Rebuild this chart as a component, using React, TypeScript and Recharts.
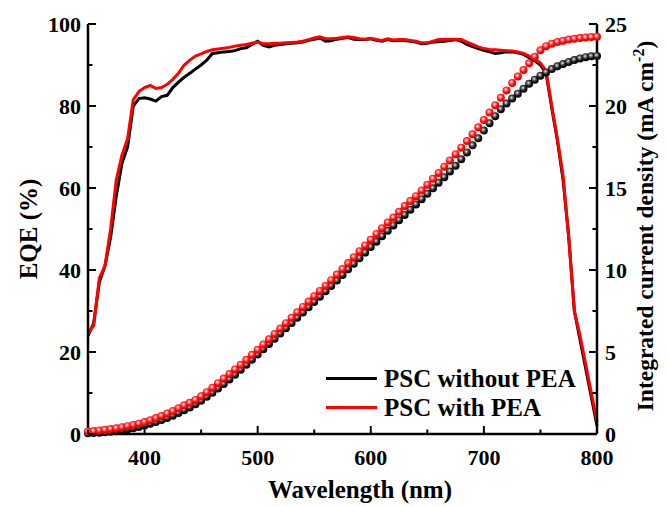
import { LineChart, Line, XAxis, YAxis, Legend } from 'recharts'

// wavelength grid (nm)
const wavelength = [
  350, 355, 360, 365, 370, 375, 380, 385, 390, 395,
  400, 405, 410, 415, 420, 425, 430, 435, 440, 445,
  450, 455, 460, 465, 470, 475, 480, 485, 490, 495,
  500, 505, 510, 515, 520, 525, 530, 535, 540, 545,
  550, 555, 560, 565, 570, 575, 580, 585, 590, 595,
  600, 605, 610, 615, 620, 625, 630, 635, 640, 645,
  650, 655, 660, 665, 670, 675, 680, 685, 690, 695,
  700, 705, 710, 715, 720, 725, 730, 735, 740, 745,
  750, 755, 760, 765, 770, 775, 780, 785, 790, 795,
  800,
]

// EQE (%)
const eqeWithout = [
  24, 27, 37, 41, 48, 58, 66, 70, 80, 81.8,
  82, 81.7, 81.2, 82.3, 82.6, 84.5, 85.8, 87, 88, 89,
  90, 91.2, 92.8, 93, 93.2, 93.3, 93.5, 94, 94.2, 95,
  95.8, 94.8, 94.4, 94.8, 95, 95.2, 95.3, 95.4, 95.6, 96,
  96.3, 96.6, 95.8, 95.9, 96.3, 96.5, 96.7, 96.3, 96.2, 96.2,
  96.4, 96, 95.8, 96.2, 95.9, 96, 96, 95.8, 95.6, 95.2,
  95.3, 95.6, 95.7, 95.8, 96, 96.2, 95.8, 95, 94.5, 94,
  93.6, 93.2, 92.8, 93, 93.2, 93.2, 93, 92.6, 91.8, 91,
  90, 88, 79.5, 71.5, 62, 48, 30, 23, 16, 9,
  2,
]
const eqeWith = [
  24.5, 26.5, 38, 41, 50, 62, 68, 72, 81.5, 83.5,
  84.5, 85, 84.3, 84.5, 85.3, 86.5, 88, 90, 91.2, 92.2,
  92.7, 93.3, 93.7, 93.9, 94.1, 94.3, 94.6, 94.8, 95, 95.3,
  95.6, 95.2, 95.2, 95.3, 95.3, 95.4, 95.5, 95.6, 95.8, 96.2,
  96.6, 96.9, 96.4, 96.4, 96.5, 96.7, 96.9, 96.7, 96.4, 96.3,
  96.5, 96.2, 96, 96.4, 96.1, 96.2, 96.2, 96, 95.8, 95.4,
  95.4, 95.8, 96.2, 96.3, 96.3, 96.3, 96.2, 95.6, 95, 94.4,
  94, 93.8, 93.7, 93.6, 93.5, 93.4, 93.2, 92.8, 92.2, 91.3,
  90.5, 88.5, 80, 72, 63, 48, 30, 24, 17, 10,
  3,
]

// integrated current density (mA cm-2)
const jscWithout = [
  0.05, 0.06, 0.08, 0.1, 0.13, 0.17, 0.22, 0.28, 0.35, 0.43,
  0.52, 0.62, 0.73, 0.85, 0.98, 1.12, 1.28, 1.45, 1.62, 1.82,
  2.03, 2.27, 2.52, 2.78, 3.05, 3.33, 3.62, 3.92, 4.22, 4.53,
  4.85, 5.17, 5.49, 5.81, 6.13, 6.45, 6.77, 7.09, 7.41, 7.73,
  8.05, 8.37, 8.7, 9.03, 9.36, 9.7, 10.04, 10.38, 10.72, 11.06,
  11.4, 11.73, 12.06, 12.39, 12.72, 13.04, 13.36, 13.68, 14.0, 14.32,
  14.65, 14.98, 15.32, 15.66, 16.0, 16.35, 16.75, 17.17, 17.6, 18.03,
  18.5, 18.95, 19.38, 19.8, 20.15, 20.45, 20.75, 21.05, 21.35, 21.6,
  21.85, 22.05, 22.25, 22.42, 22.56, 22.68, 22.8, 22.9, 22.98, 23.03,
  23.05,
]
const jscWith = [
  0.15, 0.18, 0.22, 0.26, 0.3, 0.35, 0.41, 0.48, 0.55, 0.63,
  0.73, 0.84, 0.97, 1.1, 1.25, 1.4, 1.57, 1.75, 1.9, 2.08,
  2.3, 2.55, 2.82, 3.1, 3.38, 3.66, 3.94, 4.22, 4.52, 4.83,
  5.14, 5.46, 5.78, 6.1, 6.43, 6.76, 7.09, 7.42, 7.75, 8.08,
  8.4, 8.72, 9.04, 9.38, 9.72, 10.06, 10.42, 10.78, 11.14, 11.5,
  11.85, 12.2, 12.55, 12.9, 13.2, 13.55, 13.9, 14.2, 14.5, 14.85,
  15.2, 15.56, 15.92, 16.3, 16.68, 17.06, 17.46, 17.86, 18.28, 18.7,
  19.15, 19.6, 20.05, 20.5, 20.95, 21.4, 21.8, 22.2, 22.6, 23.0,
  23.4, 23.65, 23.8, 23.9, 23.98, 24.05, 24.1, 24.14, 24.17, 24.2,
  24.22,
]

const xTicks = [350, 400, 450, 500, 550, 600, 650, 700, 750, 800]
const eqeTicks = [0, 10, 20, 30, 40, 50, 60, 70, 80, 90, 100]
const jscTicks = [0, 2.5, 5, 7.5, 10, 12.5, 15, 17.5, 20, 22.5, 25]

const legendItems = [
  { name: 'PSC without PEA', color: '#000000' },
  { name: 'PSC with PEA', color: '#ff0000' },
]

const data = wavelength.map((wl, i) => ({
  wl,
  eqeWithout: eqeWithout[i],
  eqeWith: eqeWith[i],
  jscWithout: jscWithout[i],
  jscWith: jscWith[i],
}))

const FONT = '"Liberation Serif", "Times New Roman", serif'
const textStyle = { fontFamily: FONT, fontWeight: 700, fontSize: 22, fill: '#000' }

function BottomTick(props: any) {
  const { x, y, payload } = props
  const major = payload.value % 100 === 0
  return (
    <g>
      <line x1={x} x2={x} y1={y} y2={y - (major ? 8 : 4.5)} stroke="#000" strokeWidth={2} />
      {major && (
        <text x={x} y={y + 31} textAnchor="middle" style={textStyle}>{payload.value}</text>
      )}
    </g>
  )
}

function LeftTick(props: any) {
  const { x, y, payload } = props
  const major = payload.value % 20 === 0
  return (
    <g>
      <line x1={x} x2={x + (major ? 8 : 4.5)} y1={y} y2={y} stroke="#000" strokeWidth={2} />
      {major && (
        <text x={x - 7} y={y + 8} textAnchor="end" style={textStyle}>{payload.value}</text>
      )}
    </g>
  )
}

function RightTick(props: any) {
  const { x, y, payload } = props
  const major = payload.value % 5 === 0
  return (
    <g>
      <line x1={x} x2={x - (major ? 8 : 4.5)} y1={y} y2={y} stroke="#000" strokeWidth={2} />
      {major && (
        <text x={x + 8} y={y + 8} textAnchor="start" style={textStyle}>{payload.value}</text>
      )}
    </g>
  )
}

const sphere = (grad: string) => (p: any) => (
  <circle key={`${grad}-${p.index}`} cx={p.cx} cy={p.cy} r={4} fill={`url(#${grad})`} />
)

function LegendBox() {
  return (
    <div style={{ fontFamily: FONT, fontWeight: 700, fontSize: 25, color: '#000' }}>
      {legendItems.map(item => (
        <div key={item.name} style={{ display: 'flex', alignItems: 'center', height: 29, lineHeight: '29px' }}>
          <div style={{ width: 51, height: 3, background: item.color, marginRight: 7 }} />
          <span>{item.name}</span>
        </div>
      ))}
    </div>
  )
}

export default function App() {
  return (
    <div style={{ position: 'absolute', left: 0, top: 0, background: '#fff' }}>
      <LineChart width={668} height={506} data={data} margin={{ top: 24, right: 0, bottom: 0, left: 0 }}>
        <defs>
          <radialGradient id="sphRed" cx="42%" cy="38%" r="62%">
            <stop offset="0%" stopColor="#ffffff" />
            <stop offset="30%" stopColor="#ff7070" />
            <stop offset="60%" stopColor="#ff0a0a" />
            <stop offset="100%" stopColor="#d80000" />
          </radialGradient>
          <radialGradient id="sphBlack" cx="42%" cy="38%" r="62%">
            <stop offset="0%" stopColor="#f0f0f0" />
            <stop offset="30%" stopColor="#707070" />
            <stop offset="60%" stopColor="#1a1a1a" />
            <stop offset="100%" stopColor="#000000" />
          </radialGradient>
        </defs>
        <XAxis
          dataKey="wl" type="number" domain={[350, 800]} ticks={xTicks} interval={0}
          height={72} tickSize={0} tickMargin={0} tickLine={false}
          axisLine={{ stroke: '#000', strokeWidth: 2.5 }}
          tick={<BottomTick />}
          label={{
            content: () => (
              <text x={360} y={498} textAnchor="middle" style={{ ...textStyle, fontSize: 25 }}>Wavelength (nm)</text>
            ),
          }}
        />
        <XAxis
          xAxisId="top" orientation="top" dataKey="wl" type="number" domain={[350, 800]}
          height={0} tick={false} tickLine={false} axisLine={{ stroke: '#000', strokeWidth: 2 }}
        />
        <YAxis
          yAxisId="eqe" domain={[0, 100]} ticks={eqeTicks} interval={0} width={88}
          tickSize={0} tickMargin={0} tickLine={false}
          axisLine={{ stroke: '#000', strokeWidth: 2.5 }}
          tick={<LeftTick />}
          label={{
            content: () => (
              <text x={37} y={229} textAnchor="middle" transform="rotate(-90, 37, 229)" style={{ ...textStyle, fontSize: 25 }}>EQE (%)</text>
            ),
          }}
        />
        <YAxis
          yAxisId="jsc" orientation="right" domain={[0, 25]} ticks={jscTicks} interval={0} width={71}
          tickSize={0} tickMargin={0} tickLine={false}
          axisLine={{ stroke: '#000', strokeWidth: 2.5 }}
          tick={<RightTick />}
          label={{
            content: () => (
              <text x={653} y={226} textAnchor="middle" transform="rotate(-90, 653, 226)" style={{ ...textStyle, fontSize: 23.5 }}>
                Integrated current density (mA cm
                <tspan dy={-9} fontSize={16}>-2</tspan>
                <tspan dy={9}>)</tspan>
              </text>
            ),
          }}
        />
        <Legend
          layout="vertical" align="center" verticalAlign="middle"
          wrapperStyle={{ left: 326, top: 364, width: 300 }}
          content={<LegendBox />}
        />
        <Line yAxisId="eqe" dataKey="eqeWithout" stroke="#000" strokeWidth={3} dot={false} isAnimationActive={false} />
        <Line yAxisId="eqe" dataKey="eqeWith" stroke="#ff0000" strokeWidth={3} dot={false} isAnimationActive={false} />
        <Line yAxisId="jsc" dataKey="jscWithout" stroke="none" dot={sphere('sphBlack')} activeDot={false} isAnimationActive={false} legendType="none" />
        <Line yAxisId="jsc" dataKey="jscWith" stroke="none" dot={sphere('sphRed')} activeDot={false} isAnimationActive={false} legendType="none" />
      </LineChart>
    </div>
  )
}
